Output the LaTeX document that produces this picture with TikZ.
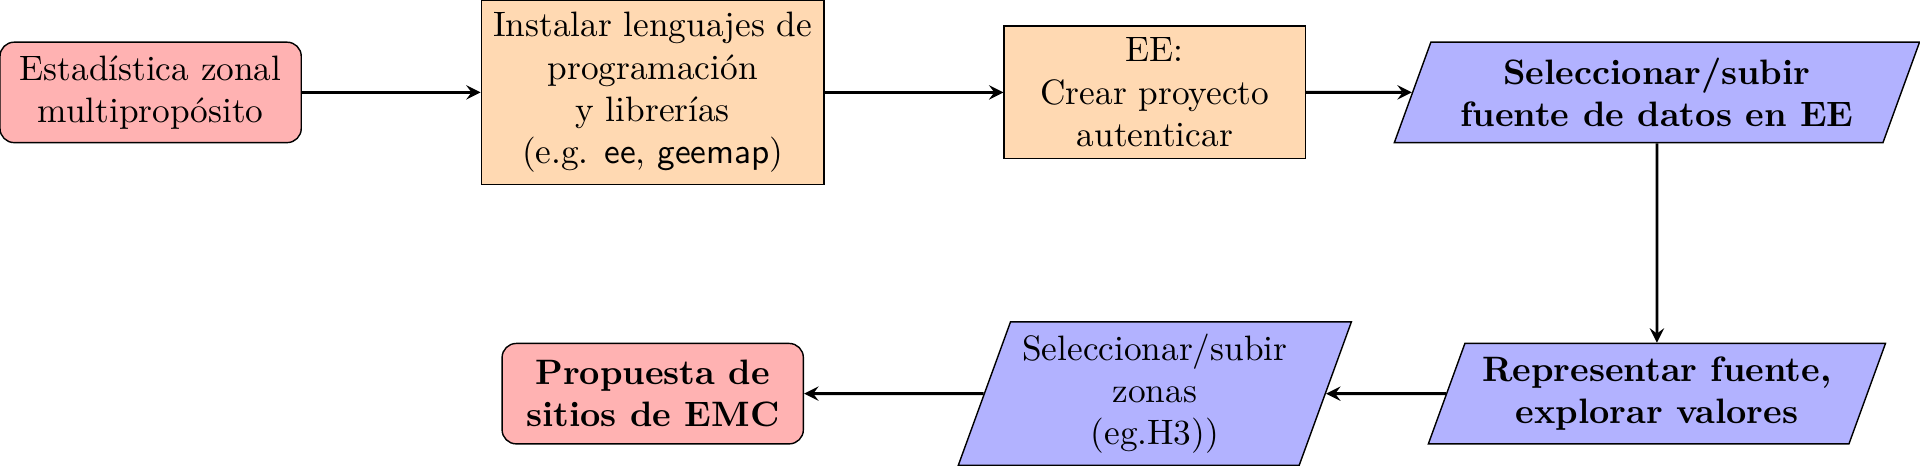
\documentclass[tikz,border=0pt]{standalone}
\usepackage{tikz}
\usetikzlibrary{shapes.geometric}

\begin{document}
\begin{tikzpicture}[startstop/.style={rectangle, rounded corners, minimum width=3cm, minimum height=1cm, align=center, draw=black, fill=red!30},
process/.style={rectangle, minimum width=3cm, minimum height=1cm, align=center, draw=black, fill=orange!30},
io/.style={trapezium, trapezium left angle=70, trapezium right angle=110, minimum width=3cm, minimum height=1cm, align=center, draw=black, fill=blue!30},
arrow/.style={thick,->,>=stealth}]
\useasboundingbox (-1.5,-3.72) rectangle (17.62,0.92);
\node[startstop] (inicio) at (0,0) {Estadística zonal\\multipropósito};
\node[process] (instalar) at (5,0) {Instalar lenguajes de\\programación\\y librerías\\(e.g. \textsf{ee}, \textsf{geemap})};
\node[process] (proyecto) at (10,0) {EE:\\Crear proyecto\\autenticar};
\node[io] (fuente) at (15,0) {\textbf{Seleccionar/subir}\\\textbf{fuente de datos en EE}};
\node[io] (representar) at (15,-3) {\textbf{Representar fuente,}\\\textbf{explorar valores}};
\node[io] (zonas) at (10,-3) {Seleccionar/subir\\zonas\\(eg.H3))};
\node[startstop] (propuesta) at (5,-3) {\textbf{Propuesta de}\\\textbf{sitios de EMC}};

\draw[arrow] (inicio) -- (instalar);
\draw[arrow] (instalar) -- (proyecto);
\draw[arrow] (proyecto) -- (fuente);
\draw[arrow] (fuente) -- (representar);
\draw[arrow] (representar) -- (zonas);
\draw[arrow] (zonas) -- (propuesta);
\end{tikzpicture}
\end{document}
